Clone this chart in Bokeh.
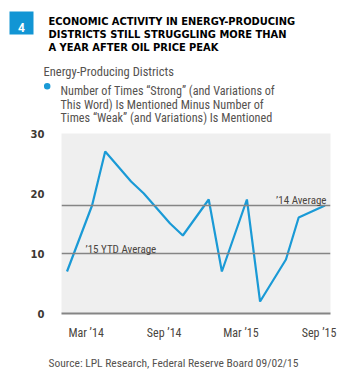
import pandas as pd
from bokeh.plotting import figure
from bokeh.layouts import column
from bokeh.models import Label, Span, FixedTicker, DatetimeTickFormatter, Range1d
from bokeh.embed import file_html
from bokeh.resources import INLINE

# ---- data ----
dates = ["2014-01-15", "2014-03-15", "2014-04-15", "2014-06-15", "2014-07-15",
         "2014-09-15", "2014-10-15", "2014-12-15", "2015-01-15", "2015-03-15",
         "2015-04-15", "2015-06-15", "2015-07-15", "2015-09-15"]
values = [7, 18, 27, 22, 20, 15, 13, 19, 7, 19, 2, 9, 16, 18]
avg_14 = 18
avg_15_ytd = 10
x_tick_dates = ["2014-03-01", "2014-09-01", "2015-03-01", "2015-09-01"]
y_ticks = [0, 10, 20, 30]
chart_number = "4"
title_lines = ["ECONOMIC ACTIVITY IN ENERGY-PRODUCING",
               "DISTRICTS STILL STRUGGLING MORE THAN",
               "A YEAR AFTER OIL PRICE PEAK"]
subtitle = "Energy-Producing Districts"
legend_lines = ["Number of Times \u201cStrong\u201d (and Variations of",
                "This Word) Is Mentioned Minus Number of",
                "Times \u201cWeak\u201d (and Variations) Is Mentioned"]
avg_14_label = "\u201914 Average"
avg_15_label = "\u201915 YTD Average"
source = "Source: LPL Research, Federal Reserve Board   09/02/15"

BLUE = "#1a9ad6"
BOX_BLUE = "#1295d4"
GRAY_LINE = "#858585"
TEXT_GRAY = "#55524f"
TITLE_FONT = "DejaVu Sans Condensed"
FONT = "Roboto Condensed"

W, H = 347, 380
HEAD_H = 128
FOOT_H = 38
CHART_H = H - HEAD_H - FOOT_H
FL, FR, FT, FB = 61, 330, 133, 316


def blank(height):
    f = figure(width=W, height=height, output_backend="svg", toolbar_location=None,
               x_axis_location=None, y_axis_location=None,
               x_range=Range1d(0, W), y_range=Range1d(height, 0),
               min_border=0, frame_align=False)
    f.min_border_left = f.min_border_right = f.min_border_top = f.min_border_bottom = 0
    f.outline_line_color = None
    f.xgrid.visible = False
    f.ygrid.visible = False
    f.background_fill_color = "white"
    f.border_fill_color = "white"
    return f


def lab(f, text, X, Y, size, color, style="normal", font=FONT, align="left"):
    f.add_layout(Label(x=X, y=Y, text=text, text_font=font,
                       text_font_size=f"{size}px", text_font_style=style,
                       text_color=color, text_align=align, text_baseline="alphabetic"))


# ---- header ----
head = blank(HEAD_H)
head.rect(x=[21], y=[22.5], width=24, height=23, fill_color=BOX_BLUE, line_color=None)
lab(head, chart_number, 21, 27, 12, "white", style="bold", font="Roboto", align="center")
for i, t in enumerate(title_lines):
    lab(head, t, 48, 21 + i * 13, 11, "black", style="bold", font=TITLE_FONT)
lab(head, subtitle, 43, 71, 12.5, TEXT_GRAY)
head.scatter(x=[46.7], y=[85.7], size=6.5, fill_color=BLUE, line_color=None)
for i, t in enumerate(legend_lines):
    lab(head, t, 60, 90.5 + i * 13.7, 12.2, TEXT_GRAY)

# ---- chart ----
x = pd.to_datetime(dates)
p = figure(width=W, height=CHART_H, x_axis_type="datetime", output_backend="svg",
           toolbar_location=None, frame_align=False,
           min_border_left=FL, min_border_right=W - FR,
           min_border_top=FT - HEAD_H, min_border_bottom=HEAD_H + CHART_H - FB,
           x_range=Range1d(pd.Timestamp("2014-01-02"), pd.Timestamp("2015-09-28")),
           y_range=Range1d(0, 30))
p.background_fill_color = "#efefef"
p.border_fill_color = "white"
p.outline_line_color = None
p.xgrid.visible = False
p.ygrid.visible = False

p.yaxis.ticker = FixedTicker(ticks=y_ticks)
p.yaxis.axis_line_color = None
p.yaxis.major_tick_line_color = None
p.yaxis.minor_tick_line_color = None
p.yaxis.major_label_text_font = "DejaVu Sans"
p.yaxis.major_label_text_font_style = "bold"
p.yaxis.major_label_text_font_size = "10px"
p.yaxis.major_label_text_color = "#3d3833"
p.yaxis.major_label_standoff = 11

tick_ms = [pd.Timestamp(d).value // 10**6 for d in x_tick_dates]
p.xaxis.ticker = FixedTicker(ticks=tick_ms)
p.xaxis.formatter = DatetimeTickFormatter(months="%b \u2019%y", days="%b \u2019%y",
                                          years="%b \u2019%y")
p.xaxis.axis_line_color = GRAY_LINE
p.xaxis.axis_line_width = 2
p.xaxis.major_tick_line_color = None
p.xaxis.minor_tick_line_color = None
p.xaxis.major_label_text_font = FONT
p.xaxis.major_label_text_font_size = "12px"
p.xaxis.major_label_text_color = "#4a4540"
p.xaxis.major_label_standoff = 6

for loc in [avg_14, avg_15_ytd]:
    p.add_layout(Span(location=loc, dimension="width", line_color=GRAY_LINE, line_width=1.5))

p.line(x, values, line_color=BLUE, line_width=2.2)

p.add_layout(Label(x=326 - FL, y=FB - 203, x_units="screen", y_units="screen",
                   text=avg_14_label, text_font=FONT, text_font_size="11px",
                   text_color="#4a4540", text_align="right", text_baseline="alphabetic"))
p.add_layout(Label(x=85 - FL, y=FB - 252, x_units="screen", y_units="screen",
                   text=avg_15_label, text_font=FONT, text_font_size="11px",
                   text_color="#4a4540", text_align="left", text_baseline="alphabetic"))

# ---- footer ----
foot = blank(FOOT_H)
lab(foot, source, 48, 362 - HEAD_H - CHART_H, 11.5, TEXT_GRAY)

layout = column(head, p, foot, spacing=0)
open("out.html", "w").write(file_html(layout, INLINE))
